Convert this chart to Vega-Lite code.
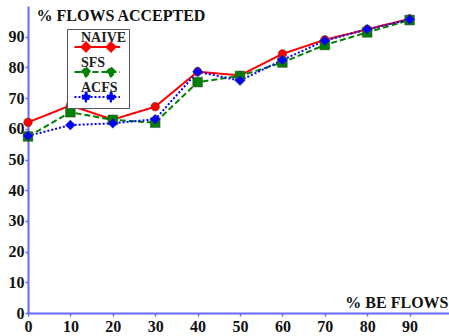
{
  "$schema": "https://vega.github.io/schema/vega-lite/v6.json",
  "width": 424,
  "height": 307,
  "autosize": {"type": "none"},
  "padding": {"left": 28, "top": 6, "right": 0, "bottom": 23},
  "background": "white",
  "config": {
    "view": {"stroke": null},
    "axis": {
      "grid": false,
      "domainColor": "#6868ff",
      "domainWidth": 2,
      "tickColor": "#6868ff",
      "tickWidth": 1.5,
      "tickSize": 3,
      "labelFont": "Liberation Serif",
      "labelFontWeight": "bold",
      "labelFontSize": 16,
      "labelColor": "#111",
      "labelFlush": false,
      "titleFont": "Liberation Serif",
      "titleFontWeight": "bold",
      "titleFontSize": 16,
      "titleColor": "#111"
    }
  },
  "data": {
    "values": [
      {"x": 0, "series": "NAIVE", "y": 62.1},
      {"x": 10, "series": "NAIVE", "y": 67.6},
      {"x": 20, "series": "NAIVE", "y": 63.0},
      {"x": 30, "series": "NAIVE", "y": 67.2},
      {"x": 40, "series": "NAIVE", "y": 78.6},
      {"x": 50, "series": "NAIVE", "y": 77.4},
      {"x": 60, "series": "NAIVE", "y": 84.4},
      {"x": 70, "series": "NAIVE", "y": 89.0},
      {"x": 80, "series": "NAIVE", "y": 92.4},
      {"x": 90, "series": "NAIVE", "y": 95.8},
      {"x": 0, "series": "SFS", "y": 57.5},
      {"x": 10, "series": "SFS", "y": 65.4},
      {"x": 20, "series": "SFS", "y": 62.9},
      {"x": 30, "series": "SFS", "y": 62.0},
      {"x": 40, "series": "SFS", "y": 75.2},
      {"x": 50, "series": "SFS", "y": 77.2},
      {"x": 60, "series": "SFS", "y": 81.6},
      {"x": 70, "series": "SFS", "y": 87.3},
      {"x": 80, "series": "SFS", "y": 91.4},
      {"x": 90, "series": "SFS", "y": 95.4},
      {"x": 0, "series": "ACFS", "y": 57.7},
      {"x": 10, "series": "ACFS", "y": 61.2},
      {"x": 20, "series": "ACFS", "y": 61.8},
      {"x": 30, "series": "ACFS", "y": 63.1},
      {"x": 40, "series": "ACFS", "y": 78.6},
      {"x": 50, "series": "ACFS", "y": 75.7},
      {"x": 60, "series": "ACFS", "y": 82.4},
      {"x": 70, "series": "ACFS", "y": 88.7},
      {"x": 80, "series": "ACFS", "y": 92.4},
      {"x": 90, "series": "ACFS", "y": 95.6}
    ]
  },
  "encoding": {
    "x": {
      "field": "x",
      "type": "quantitative",
      "scale": {"domain": [0, 100], "nice": false},
      "axis": {
        "orient": "bottom",
        "values": [0, 10, 20, 30, 40, 50, 60, 70, 80, 90],
        "title": "% BE FLOWS",
        "titleX": 420,
        "titleY": -6,
        "titleAlign": "right",
        "titleBaseline": "alphabetic",
        "labelPadding": 2
      }
    },
    "y": {
      "field": "y",
      "type": "quantitative",
      "scale": {"domain": [0, 100], "nice": false},
      "axis": {
        "orient": "left",
        "values": [0, 10, 20, 30, 40, 50, 60, 70, 80, 90],
        "title": "% FLOWS ACCEPTED",
        "titleAngle": 0,
        "titleX": 8,
        "titleY": 14,
        "titleAlign": "left",
        "titleBaseline": "alphabetic",
        "labelPadding": 1
      }
    }
  },
  "layer": [
    {
      "mark": {"type": "line", "strokeWidth": 2},
      "encoding": {
        "color": {
          "field": "series",
          "type": "nominal",
          "scale": {"domain": ["NAIVE", "SFS", "ACFS"], "range": ["#ff0000", "#008000", "#0000ff"]},
          "legend": {
            "orient": "none",
            "legendX": 39,
            "legendY": 23,
            "title": null,
            "symbolSize": 4,
            "symbolStrokeWidth": 2,
            "labelOffset": -2,
            "padding": 2,
            "rowPadding": 0,
            "strokeColor": "#555",
            "fillColor": "white",
            "labelFont": "Liberation Serif",
            "labelFontWeight": "bold",
            "labelFontSize": 14,
            "labelColor": "#222",
            "encode": {
              "symbols": {
                "update": {
                  "shape": {
                    "condition": [
                      {"test": "datum.value === 'NAIVE'", "value": "M-1.5,9H44M14,9A4,4 0 1,1 6,9A4,4 0 1,1 14,9ZM39,9A4,4 0 1,1 31,9A4,4 0 1,1 39,9Z"},
                      {"test": "datum.value === 'SFS'", "value": "M-1.5,9H44M6,5H14V13H6ZM31,5H39V13H31Z"}
                    ],
                    "value": "M-1.5,9H44M10,4.5L14.5,9L10,13.5L5.5,9ZM35,4.5L39.5,9L35,13.5L30.5,9Z"
                  },
                  "fill": {
                    "condition": [
                      {"test": "datum.value === 'NAIVE'", "value": "#ff0000"},
                      {"test": "datum.value === 'SFS'", "value": "#008000"}
                    ],
                    "value": "#0000ff"
                  }
                }
              }
            }
          }
        },
        "strokeDash": {
          "field": "series",
          "type": "nominal",
          "scale": {"domain": ["NAIVE", "SFS", "ACFS"], "range": [[1, 0], [6, 3], [2, 2]]}
        }
      }
    },
    {
      "transform": [{"filter": "datum.series === 'NAIVE'"}],
      "mark": {"type": "point", "shape": "circle", "size": 75, "filled": true, "opacity": 1, "stroke": "#444", "strokeWidth": 0.8, "strokeOpacity": 0.6},
      "encoding": {"color": {"field": "series", "type": "nominal", "legend": null}}
    },
    {
      "transform": [{"filter": "datum.series === 'SFS'"}],
      "mark": {"type": "point", "shape": "square", "size": 95, "filled": true, "opacity": 1, "stroke": "#444", "strokeWidth": 0.8, "strokeOpacity": 0.6},
      "encoding": {"color": {"field": "series", "type": "nominal", "legend": null}}
    },
    {
      "transform": [{"filter": "datum.series === 'ACFS'"}],
      "mark": {"type": "point", "shape": "diamond", "size": 100, "filled": true, "opacity": 1, "stroke": "#444", "strokeWidth": 0.8, "strokeOpacity": 0.6},
      "encoding": {"color": {"field": "series", "type": "nominal", "legend": null}}
    }
  ]
}
